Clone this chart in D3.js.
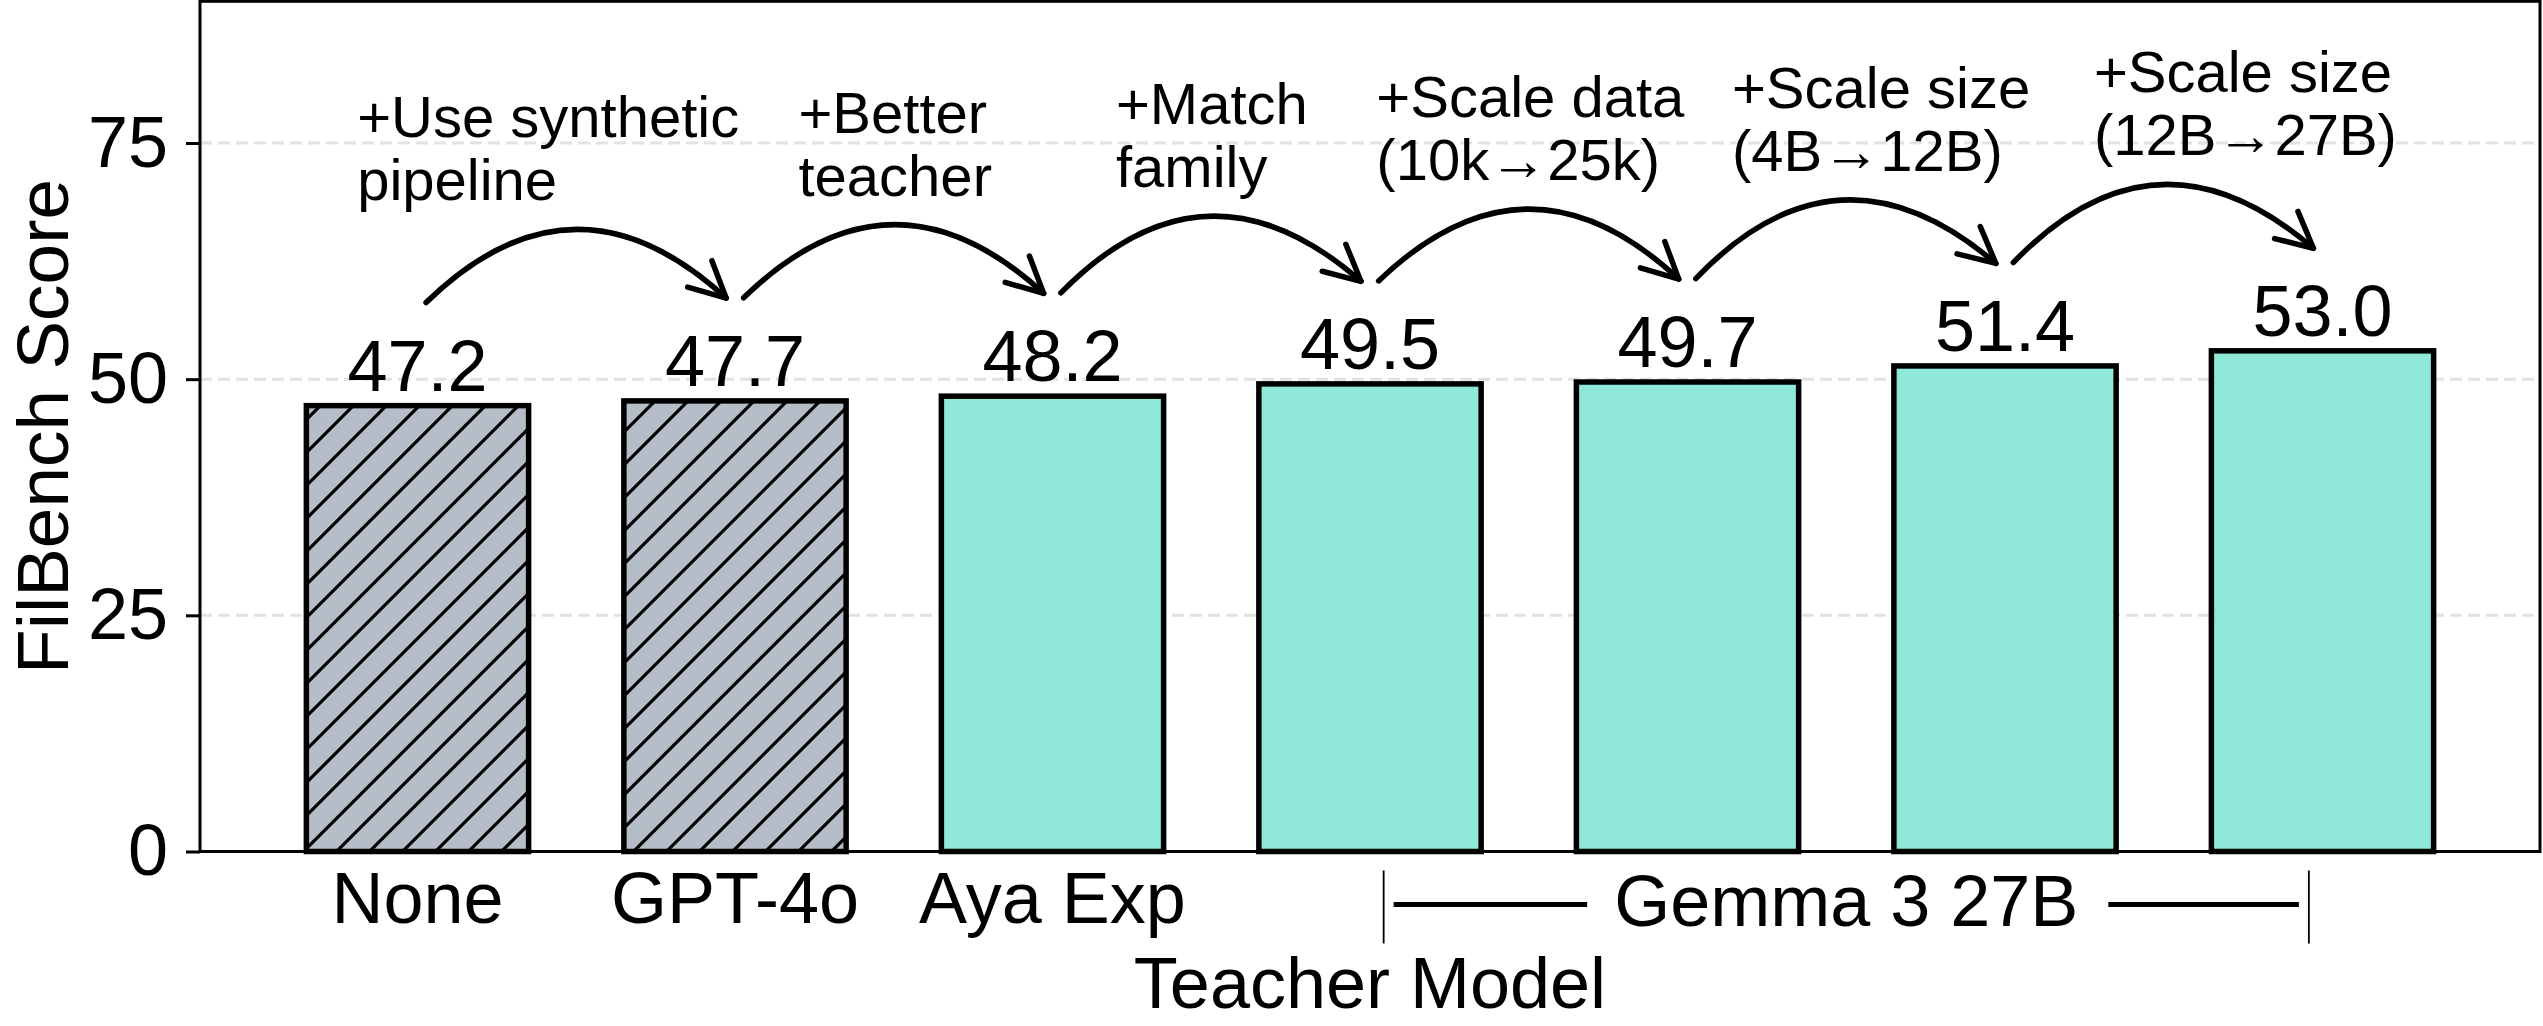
<!DOCTYPE html>
<html>
<head>
<meta charset="utf-8">
<script src="https://cdn.jsdelivr.net/npm/d3@7"></script>
<style>
  body { margin: 0; background: #fff; }
  svg { display: block; }
  text { font-family: "Liberation Sans", Arial, Helvetica, sans-serif; fill: #000; }
</style>
</head>
<body>
<svg id="chart" width="2543" height="1026"></svg>
<script>
// data
const tickLabels = ['None', 'GPT-4o', 'Aya Exp', '', '', '', ''];
const scores = [47.2, 47.7, 48.2, 49.5, 49.7, 51.4, 53.0];
const baselineRun = [true, true, false, false, false, false, false]; // hatched grey bars
const groupLabel = 'Gemma 3 27B';
const groupSpan = [3, 6];
const yTicks = [0, 25, 50, 75];
const steps = [
  ['+Use synthetic', 'pipeline'],
  ['+Better', 'teacher'],
  ['+Match', 'family'],
  ['+Scale data', '(10k\u219225k)'],
  ['+Scale size', '(4B\u219212B)'],
  ['+Scale size', '(12B\u219227B)']
];

// layout
const W = 2543, H = 1026;
const plot = { left: 200, right: 2540, top: 1.3, bottom: 851.5 };
const barWidth = 0.7;
const arrowLift = 10;           // arrows sit this many score points above the bars
const noteLeft = [-0.19, 1.2, 2.2, 3.02, 4.14, 5.28]; // left edge of each step note, in bar units

const svg = d3.select('#chart');

const x = d3.scaleLinear().domain([-0.685, 6.685]).range([plot.left, plot.right]);
const y = d3.scaleLinear().domain([0, 90]).range([plot.bottom, plot.top]);
const greyFill = '#b5bdc8';
const tealFill = '#8fe8d8';

// hatch pattern for the grey bars
const defs = svg.append('defs');
const pat = defs.append('pattern')
  .attr('id', 'hatch')
  .attr('patternUnits', 'userSpaceOnUse')
  .attr('width', 33).attr('height', 33);
pat.append('rect').attr('width', 33).attr('height', 33).attr('fill', greyFill);
pat.append('path')
  .attr('d', 'M0,33 L33,0 M-6,6 L6,-6 M27,39 L39,27')
  .attr('stroke', '#000').attr('stroke-width', 3.2);

// grid
svg.append('g').selectAll('line')
  .data(yTicks.filter(t => t > 0))
  .enter().append('line')
  .attr('x1', plot.left).attr('x2', plot.right)
  .attr('y1', d => y(d)).attr('y2', d => y(d))
  .attr('stroke', '#e2e2e2')
  .attr('stroke-width', 3)
  .attr('stroke-dasharray', '12,6');

// bars
svg.append('g').selectAll('rect')
  .data(scores)
  .enter().append('rect')
  .attr('x', (d, i) => x(i - barWidth / 2))
  .attr('y', d => y(d))
  .attr('width', x(barWidth) - x(0))
  .attr('height', d => y(0) - y(d))
  .attr('fill', (d, i) => baselineRun[i] ? 'url(#hatch)' : tealFill)
  .attr('stroke', '#000')
  .attr('stroke-width', 5.5);

// value labels
svg.append('g').selectAll('text')
  .data(scores)
  .enter().append('text')
  .attr('x', (d, i) => x(i))
  .attr('y', d => y(d) - 15)
  .attr('text-anchor', 'middle')
  .attr('font-size', 72)
  .text(d => d.toFixed(1));

// frame
svg.append('rect')
  .attr('x', plot.left).attr('y', plot.top)
  .attr('width', plot.right - plot.left)
  .attr('height', plot.bottom - plot.top)
  .attr('fill', 'none')
  .attr('stroke', '#000')
  .attr('stroke-width', 3);

// y axis
const yAxis = svg.append('g')
  .attr('transform', `translate(${plot.left},0)`)
  .call(d3.axisLeft(y).tickValues(yTicks).tickSize(14).tickPadding(18));
yAxis.select('.domain').remove();
yAxis.selectAll('.tick line').attr('stroke', '#000').attr('stroke-width', 3);
yAxis.selectAll('.tick text')
  .attr('font-size', 72)
  .attr('font-family', '"Liberation Sans", Arial, sans-serif')
  .attr('fill', '#000');

// x tick labels (no tick marks)
const labelBase = plot.bottom + 71;
svg.append('g').selectAll('text')
  .data(tickLabels)
  .enter().append('text')
  .attr('x', (d, i) => x(i))
  .attr('y', labelBase)
  .attr('text-anchor', 'middle')
  .attr('font-size', 72)
  .text(d => d);

// group bracket for the Gemma bars
const gx0 = x(groupSpan[0] + 0.043), gx1 = x(groupSpan[1] - 0.043);
const gMid = (x(groupSpan[0]) + x(groupSpan[1])) / 2;
const grp = svg.append('g');
const gText = grp.append('text')
  .attr('x', gMid).attr('y', labelBase + 3)
  .attr('text-anchor', 'middle')
  .attr('font-size', 72)
  .text(groupLabel);
const gw = gText.node().getComputedTextLength();
grp.selectAll('line.end')
  .data([gx0, gx1])
  .enter().append('line')
  .attr('x1', d => d).attr('x2', d => d)
  .attr('y1', labelBase - 52).attr('y2', labelBase + 21)
  .attr('stroke', '#000').attr('stroke-width', 1.8);
grp.selectAll('line.dash')
  .data([[gx0 + 10, gMid - gw / 2 - 27], [gMid + gw / 2 + 30, gx1 - 10]])
  .enter().append('line')
  .attr('x1', d => d[0]).attr('x2', d => d[1])
  .attr('y1', labelBase - 18).attr('y2', labelBase - 18)
  .attr('stroke', '#000').attr('stroke-width', 5);

// curved step arrows and their notes
const shrink = 10, headLen = 40, headAngle = 26.6 * Math.PI / 180;
const arrows = svg.append('g');
d3.range(steps.length).forEach(i => {
  const p0 = [x(i), y(scores[i] + arrowLift)];
  const p2 = [x(i + 1), y(scores[i + 1] + arrowLift)];
  const dx = p2[0] - p0[0], dy = p2[1] - p0[1];
  const c = [(p0[0] + p2[0]) / 2 + 0.5 * dy, (p0[1] + p2[1]) / 2 - 0.5 * dx];
  const bez = t => [
    (1 - t) * (1 - t) * p0[0] + 2 * t * (1 - t) * c[0] + t * t * p2[0],
    (1 - t) * (1 - t) * p0[1] + 2 * t * (1 - t) * c[1] + t * t * p2[1]
  ];
  // arc length by sampling, to trim both ends
  const samples = d3.range(0, 1.0001, 0.02).map(bez);
  let len = 0, peak = Infinity;
  samples.forEach((p, k) => {
    if (k) len += Math.hypot(p[0] - samples[k - 1][0], p[1] - samples[k - 1][1]);
    peak = Math.min(peak, p[1]);
  });
  const t0 = shrink / len, t1 = 1 - shrink / len;
  const a = bez(t0), b = bez(t1);
  const q = [
    (1 - t0) * (1 - t1) * p0[0] + ((1 - t0) * t1 + t0 * (1 - t1)) * c[0] + t0 * t1 * p2[0],
    (1 - t0) * (1 - t1) * p0[1] + ((1 - t0) * t1 + t0 * (1 - t1)) * c[1] + t0 * t1 * p2[1]
  ];
  const path = d3.path();
  path.moveTo(a[0], a[1]);
  path.quadraticCurveTo(q[0], q[1], b[0], b[1]);
  arrows.append('path')
    .attr('d', path.toString())
    .attr('fill', 'none').attr('stroke', '#000')
    .attr('stroke-width', 5.5).attr('stroke-linecap', 'round');

  const ang = Math.atan2(b[1] - q[1], b[0] - q[0]);
  const arm = s => [b[0] - headLen * Math.cos(ang + s * headAngle), b[1] - headLen * Math.sin(ang + s * headAngle)];
  const h1 = arm(1), h2 = arm(-1);
  arrows.append('path')
    .attr('d', `M${h1[0]},${h1[1]} L${b[0]},${b[1]} L${h2[0]},${h2[1]}`)
    .attr('fill', 'none').attr('stroke', '#000')
    .attr('stroke-width', 5.5).attr('stroke-linecap', 'round').attr('stroke-linejoin', 'round');

  const note = arrows.append('text')
    .attr('x', x(noteLeft[i]))
    .attr('y', peak - 92)
    .attr('font-size', 58);
  steps[i].forEach((line, k) => {
    note.append('tspan')
      .attr('x', x(noteLeft[i]))
      .attr('dy', k ? 63 : 0)
      .text(line);
  });
});

// axis titles
svg.append('text')
  .attr('transform', `translate(68,${(plot.top + plot.bottom) / 2}) rotate(-90)`)
  .attr('text-anchor', 'middle')
  .attr('font-size', 73)
  .text('FilBench Score');

svg.append('text')
  .attr('x', (plot.left + plot.right) / 2)
  .attr('y', 1008)
  .attr('text-anchor', 'middle')
  .attr('font-size', 72)
  .text('Teacher Model');
</script>
</body>
</html>
